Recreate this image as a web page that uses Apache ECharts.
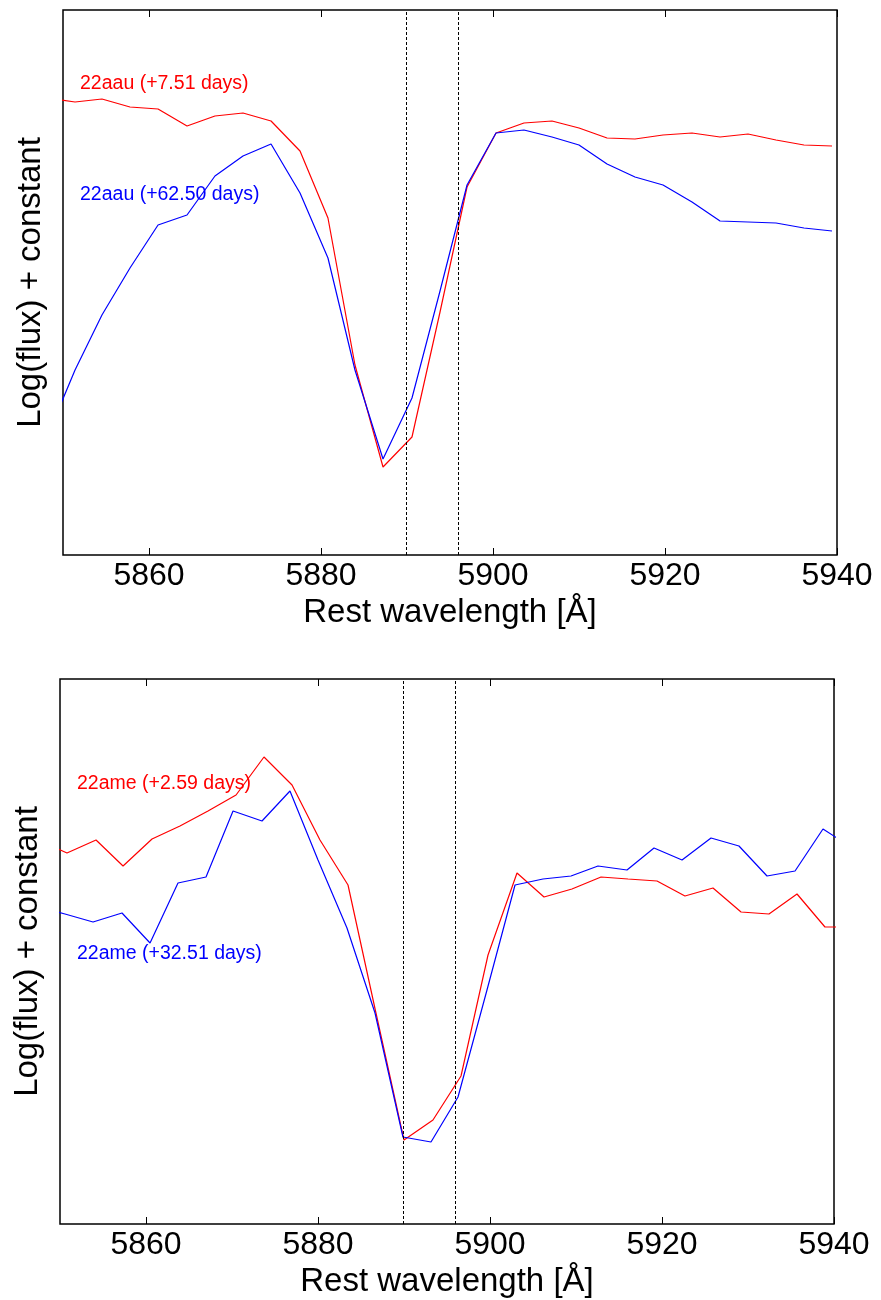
<!DOCTYPE html>
<html>
<head>
<meta charset="utf-8">
<script src="https://cdn.jsdelivr.net/npm/echarts@6.0.0/dist/echarts.min.js"></script>
<style>
  html, body { margin: 0; padding: 0; background: #fff; }
  #chart { width: 881px; height: 1300px; }
</style>
</head>
<body>
<div id="chart"></div>
<script>
// wavelength grid, top panel (22aau)
const wlTop = [5848.14, 5851.40, 5854.53, 5857.79, 5861.05, 5864.42, 5867.67, 5870.93, 5874.19, 5877.56,
  5880.81, 5883.95, 5887.21, 5890.58, 5893.84, 5896.98, 5900.35, 5903.60, 5906.86, 5910.00,
  5913.26, 5916.51, 5919.77, 5923.14, 5926.40, 5929.65, 5932.91, 5936.16, 5939.42];
const aauEarly = [4.57, 4.53, 4.56, 4.48, 4.46, 4.29, 4.39, 4.42, 4.34, 4.04,
  3.37, 1.90, 0.88, 1.18, 2.43, 3.68, 4.22, 4.32, 4.34, 4.27,
  4.17, 4.16, 4.20, 4.22, 4.18, 4.21, 4.15, 4.10, 4.09];
const aauLate = [1.18, 1.85, 2.40, 2.87, 3.30, 3.40, 3.79, 3.99, 4.11, 3.62,
  2.97, 1.85, 0.96, 1.57, 2.64, 3.70, 4.22, 4.25, 4.18, 4.10,
  3.91, 3.78, 3.70, 3.53, 3.34, 3.33, 3.32, 3.27, 3.24];

// bottom panel (22ame), the two spectra are on slightly different grids
const wlAmeEarly = [5847.56, 5850.81, 5854.19, 5857.33, 5860.70, 5863.95, 5867.21, 5870.47, 5873.72, 5876.98,
  5880.23, 5883.49, 5886.74, 5890.00, 5893.37, 5896.63, 5899.77, 5903.14, 5906.28, 5909.53,
  5912.91, 5916.05, 5919.42, 5922.67, 5925.93, 5929.19, 5932.44, 5935.70, 5938.95, 5942.21];
const ameEarly = [3.84, 3.71, 3.84, 3.58, 3.85, 3.98, 4.13, 4.29, 4.67, 4.39,
  3.84, 3.39, 2.11, 0.84, 1.04, 1.48, 2.69, 3.51, 3.27, 3.35,
  3.47, 3.45, 3.43, 3.28, 3.36, 3.12, 3.10, 3.30, 2.97, 2.97];
const wlAmeLate = [5847.33, 5850.58, 5853.84, 5857.21, 5860.47, 5863.72, 5866.98, 5870.12, 5873.49, 5876.74,
  5880.00, 5883.37, 5886.63, 5889.88, 5893.14, 5896.28, 5899.65, 5902.91, 5906.16, 5909.42,
  5912.56, 5915.93, 5919.07, 5922.33, 5925.70, 5928.95, 5932.21, 5935.47, 5938.72, 5941.98];
const ameLate = [3.18, 3.10, 3.02, 3.11, 2.81, 3.41, 3.47, 4.13, 4.03, 4.33,
  3.64, 2.96, 2.11, 0.87, 0.82, 1.27, 2.34, 3.39, 3.45, 3.48,
  3.58, 3.54, 3.76, 3.64, 3.86, 3.78, 3.48, 3.53, 3.95, 3.77];

// Na I D lines
const naD = [5889.95, 5895.92];
const xTicks = [5860, 5880, 5900, 5920, 5940];
const labels = ['22aau (+7.51 days)', '22aau (+62.50 days)', '22ame (+2.59 days)', '22ame (+32.51 days)'];

const FONT = '"Liberation Sans", Arial, sans-serif';

function pairs(xs, ys) {
  return xs.map((x, i) => [x, ys[i]]);
}

function bottomAxis(gi) {
  return {
    type: 'value', gridIndex: gi, position: 'bottom',
    min: 5850, max: 5940,
    name: 'Rest wavelength [Å]', nameLocation: 'middle', nameGap: 41,
    nameTextStyle: { fontFamily: FONT, fontSize: 33, color: '#000' },
    axisLine: { show: false },
    splitLine: { show: false },
    axisTick: { show: true, inside: true, length: 7, customValues: xTicks,
      lineStyle: { color: '#000', width: 1 } },
    axisLabel: { show: true, customValues: xTicks, margin: 5,
      formatter: v => String(v),
      fontFamily: FONT, fontSize: 32, color: '#000' }
  };
}

function topAxis(gi) {
  return {
    type: 'value', gridIndex: gi, position: 'top',
    min: 5850, max: 5940,
    axisLine: { show: false },
    splitLine: { show: false },
    axisTick: { show: true, inside: true, length: 7, customValues: xTicks,
      lineStyle: { color: '#000', width: 1 } },
    axisLabel: { show: false }
  };
}

function yAxisFor(gi) {
  return {
    type: 'value', gridIndex: gi, min: 0, max: 5.45,
    name: 'Log(flux) + constant', nameLocation: 'middle', nameGap: 16,
    nameTextStyle: { fontFamily: FONT, fontSize: 33, color: '#000' },
    axisLine: { show: false }, axisTick: { show: false },
    axisLabel: { show: false }, splitLine: { show: false }
  };
}

function spec(name, xi, yi, data, color, withLines) {
  const s = {
    name: name, type: 'line', xAxisIndex: xi, yAxisIndex: yi,
    data: data, showSymbol: false, clip: true,
    lineStyle: { color: color, width: 1.2 }, itemStyle: { color: color }
  };
  if (withLines) {
    s.markLine = {
      silent: true, symbol: ['none', 'none'], label: { show: false },
      lineStyle: { color: '#000', type: [3, 2], width: 1 },
      data: naD.map(v => ({ xAxis: v }))
    };
  }
  return s;
}

function note(text, x, y, color) {
  return { type: 'text', left: x, top: y,
    style: { text: text, fill: color, font: '19.5px ' + FONT } };
}

const option = {
  animation: false,
  backgroundColor: '#fff',
  grid: [
    { left: 63, top: 10, width: 774, height: 545, show: true, borderColor: '#000', borderWidth: 1.5, backgroundColor: 'transparent' },
    { left: 60, top: 679, width: 774, height: 545, show: true, borderColor: '#000', borderWidth: 1.5, backgroundColor: 'transparent' }
  ],
  xAxis: [bottomAxis(0), topAxis(0), bottomAxis(1), topAxis(1)],
  yAxis: [yAxisFor(0), yAxisFor(1)],
  series: [
    spec(labels[0], 0, 0, pairs(wlTop, aauEarly), '#ff0000', true),
    spec(labels[1], 0, 0, pairs(wlTop, aauLate), '#0000ff', false),
    spec(labels[2], 2, 1, pairs(wlAmeEarly, ameEarly), '#ff0000', true),
    spec(labels[3], 2, 1, pairs(wlAmeLate, ameLate), '#0000ff', false)
  ],
  graphic: [
    note(labels[0], 80, 74, '#ff0000'),
    note(labels[1], 80, 185, '#0000ff'),
    note(labels[2], 77, 774, '#ff0000'),
    note(labels[3], 77, 944, '#0000ff')
  ]
};

const myChart = echarts.init(document.getElementById('chart'), null, { renderer: 'canvas' });
myChart.setOption(option);
</script>
</body>
</html>
